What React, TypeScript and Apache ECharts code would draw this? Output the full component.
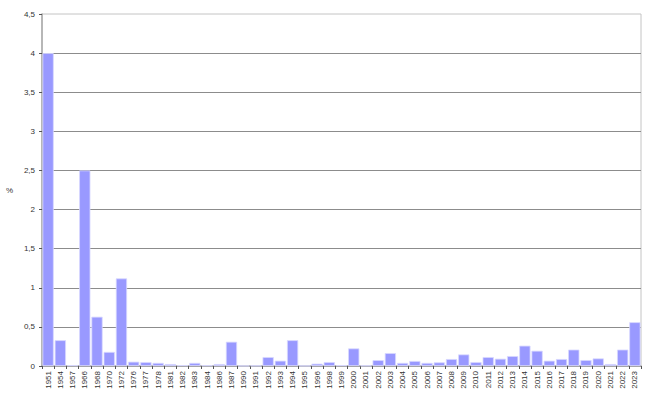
import React, { useEffect, useRef } from "react";
import * as echarts from "echarts";

const categories = ["1951","1954","1957","1966","1968","1970","1972","1976","1977","1978","1981","1982","1983","1984","1986","1987","1990","1991","1992","1993","1994","1995","1996","1998","1999","2000","2001","2002","2003","2004","2005","2006","2007","2008","2009","2010","2011","2012","2013","2014","2015","2016","2017","2018","2019","2020","2021","2022","2023"];
const values = [4.0,0.33,0.01,2.5,0.63,0.18,1.12,0.055,0.05,0.04,0.025,0.01,0.04,0.008,0.025,0.31,0.002,0.005,0.114,0.068,0.33,0.002,0.03,0.05,0.01,0.225,0.006,0.075,0.165,0.04,0.064,0.04,0.047,0.089,0.148,0.05,0.114,0.093,0.127,0.26,0.195,0.068,0.089,0.21,0.076,0.097,0.025,0.21,0.56];
const yMax = 4.5;
const yStep = 0.5;

export default function App() {
  const ref = useRef<HTMLDivElement>(null);
  useEffect(() => {
    const chart = echarts.init(ref.current!, null, { renderer: "svg" });
    chart.setOption({
      animation: false,
      grid: { left: 42, right: 9, top: 14, bottom: 34, show: true, borderColor: "#c4c4c4", borderWidth: 1 },
      xAxis: {
        type: "category",
        data: categories,
        axisLine: { lineStyle: { color: "#a8a8a8", width: 1.5 } },
        axisTick: { show: true, alignWithLabel: false, length: 3, lineStyle: { color: "#555" } },
        axisLabel: { rotate: 90, fontSize: 8, color: "#333", fontFamily: "Liberation Sans", interval: 0, margin: 5 },
      },
      yAxis: {
        type: "value",
        name: "%",
        nameLocation: "middle",
        nameGap: 29,
        nameRotate: 0,
        nameTextStyle: { fontSize: 8, color: "#333", fontFamily: "Liberation Sans" },
        min: 0,
        max: yMax,
        interval: yStep,
        axisLine: { show: true, lineStyle: { color: "#a8a8a8", width: 1.5 } },
        axisTick: { show: true, length: 3, lineStyle: { color: "#555" } },
        axisLabel: {
          fontSize: 8, color: "#333", fontFamily: "Liberation Sans", margin: 7,
          formatter: (v: number) => String(v).replace(".", ","),
        },
        splitLine: { showMaxLine: false, lineStyle: { color: "#8c8c8c", width: 1 } },
      },
      series: [
        {
          type: "bar",
          data: values,
          barCategoryGap: "8%",
          itemStyle: { color: "#9999ff", borderColor: "#d8d8ff", borderWidth: 0.8 },
        },
      ],
    });
    return () => chart.dispose();
  }, []);
  return <div ref={ref} style={{ width: 650, height: 400, position: "absolute", left: 0, top: 0 }} />;
}
